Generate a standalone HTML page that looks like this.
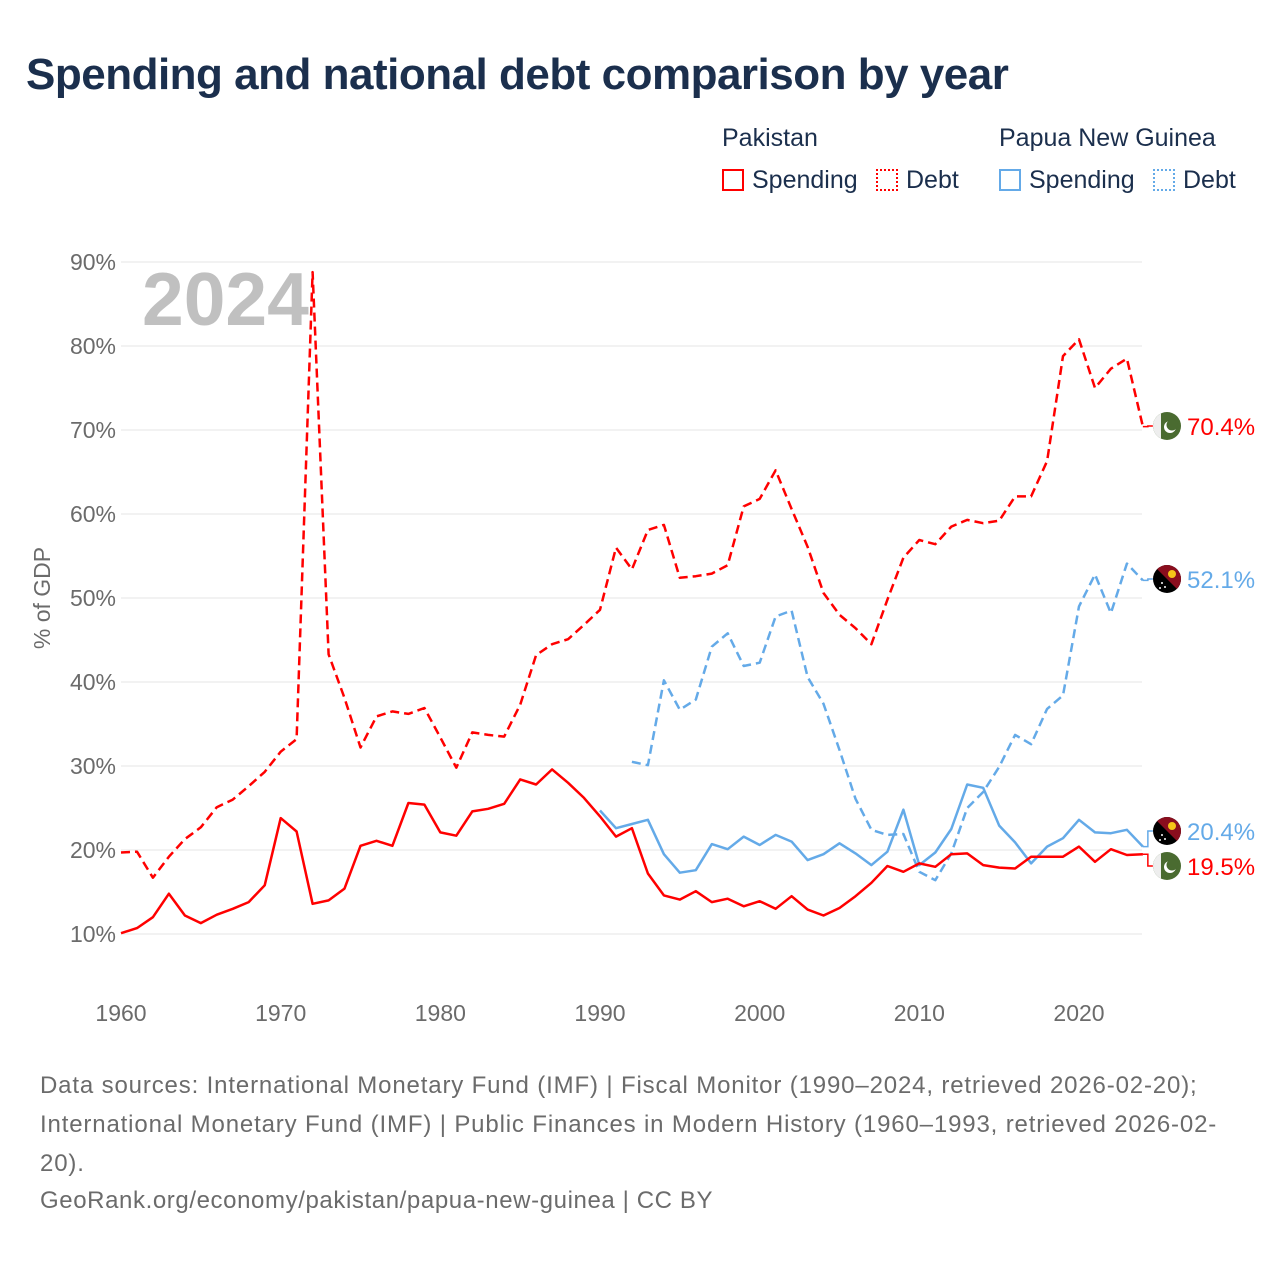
<!DOCTYPE html>
<html><head><meta charset="utf-8"><style>
html,body{margin:0;padding:0;background:#fff}
body{width:1280px;height:1280px;position:relative;font-family:"Liberation Sans","DejaVu Sans",sans-serif;overflow:hidden}
.t{position:absolute;white-space:nowrap}
</style></head><body>
<div class="t" style="left:26px;top:50px;font-size:44px;font-weight:bold;color:#1b2f4d;letter-spacing:-0.5px">Spending and national debt comparison by year</div>

<div class="t" style="left:722px;top:124px;font-size:25px;color:#1b2f4d">Pakistan</div>
<div class="t" style="left:999px;top:124px;font-size:25px;color:#1b2f4d">Papua New Guinea</div>
<div class="t" style="left:722px;top:166px;font-size:25px;color:#1b2f4d"><span style="display:inline-block;width:22px;height:22px;border:2px solid #f00;box-sizing:border-box;vertical-align:-3px;margin-right:8px"></span>Spending</div>
<div class="t" style="left:876px;top:166px;font-size:25px;color:#1b2f4d"><span style="display:inline-block;width:22px;height:22px;border:2px dotted #f00;box-sizing:border-box;vertical-align:-3px;margin-right:8px"></span>Debt</div>
<div class="t" style="left:999px;top:166px;font-size:25px;color:#1b2f4d"><span style="display:inline-block;width:22px;height:22px;border:2px solid #64aae8;box-sizing:border-box;vertical-align:-3px;margin-right:8px"></span>Spending</div>
<div class="t" style="left:1153px;top:166px;font-size:25px;color:#1b2f4d"><span style="display:inline-block;width:22px;height:22px;border:2px dotted #64aae8;box-sizing:border-box;vertical-align:-3px;margin-right:8px"></span>Debt</div>

<svg id="chart" width="1280" height="1280" style="position:absolute;left:0;top:0" xmlns="http://www.w3.org/2000/svg"></svg>

<div class="t" style="left:40px;top:1066px;font-size:24px;line-height:39px;color:#6b6b6b;letter-spacing:0.85px">Data sources: International Monetary Fund (IMF) | Fiscal Monitor (1990–2024, retrieved 2026-02-20);<br>International Monetary Fund (IMF) | Public Finances in Modern History (1960–1993, retrieved 2026-02-<br>20).</div>
<div class="t" style="left:40px;top:1187px;font-size:24px;color:#6b6b6b;letter-spacing:0.6px">GeoRank.org/economy/pakistan/papua-new-guinea | CC BY</div>

<script>
const yTicks=[10,20,30,40,50,60,70,80,90];
const xTicks=[1960,1970,1980,1990,2000,2010,2020];
const pakYears0=1960;
const pakSpending=[10.1,10.7,12,14.8,12.2,11.3,12.3,13,13.8,15.8,23.8,22.2,13.6,14,15.4,20.5,21.1,20.5,25.6,25.4,22.1,21.7,24.6,24.9,25.5,28.4,27.8,29.6,28,26.2,24,21.6,22.6,17.2,14.6,14.1,15.1,13.8,14.2,13.3,13.9,13,14.5,12.9,12.2,13.1,14.5,16.1,18.1,17.4,18.4,18,19.5,19.6,18.2,17.9,17.8,19.2,19.2,19.2,20.4,18.6,20.1,19.4,19.5];
const pakDebt=[19.7,19.8,16.7,19.2,21.3,22.7,25.1,26,27.6,29.3,31.7,33.2,88.8,43.3,38.1,32.2,35.9,36.5,36.2,36.9,33.4,29.8,34,33.7,33.5,37.3,43.2,44.5,45.1,46.8,48.6,56,53.4,58.1,58.7,52.4,52.6,52.9,53.9,60.9,61.8,65.2,60.6,56.1,50.6,48,46.4,44.5,49.8,54.8,56.9,56.4,58.5,59.3,58.9,59.2,62.1,62.1,66.3,78.8,80.8,75,77.3,78.5,70.4];
const pngSpendStart=1990;
const pngSpending=[24.7,22.6,23.1,23.6,19.5,17.3,17.6,20.7,20.1,21.6,20.6,21.8,21,18.8,19.5,20.8,19.6,18.2,19.8,24.8,18.2,19.7,22.5,27.8,27.4,22.9,20.9,18.4,20.4,21.4,23.6,22.1,22,22.4,20.4];
const pngDebtStart=1992;
const pngDebt=[30.5,30.1,40.2,36.7,37.9,44.2,45.8,41.9,42.3,47.8,48.5,40.6,37.4,31.9,26.1,22.4,21.8,21.9,17.4,16.4,19.6,25,26.9,29.9,33.7,32.6,36.8,38.4,49,52.8,48.2,54.1,52.1];

const svg=document.getElementById('chart');
const NS='http://www.w3.org/2000/svg';
const X=yr=>121+(yr-1960)*(958/60);
const Y=v=>934-(v-10)*8.4;
function mk(tag,attrs){const e=document.createElementNS(NS,tag);for(const k in attrs)e.setAttribute(k,attrs[k]);svg.appendChild(e);return e;}

yTicks.forEach(v=>{
  const l=mk('line',{x1:121,x2:1142,y1:Y(v),y2:Y(v),stroke:'#e4e4e4','stroke-width':1});
  
  
  const t=mk('text',{x:116,y:Y(v)+8,'text-anchor':'end','font-size':23,fill:'#6b6b6b','font-family':'Liberation Sans, sans-serif'});
  t.textContent=v+'%';
  
  
});
xTicks.forEach(yr=>{
  const t=mk('text',{x:X(yr),y:1021,'text-anchor':'middle','font-size':23,fill:'#6b6b6b','font-family':'Liberation Sans, sans-serif'});
  t.textContent=yr;
  
  
});
const yt=mk('text',{x:0,y:0,transform:'translate(50,598) rotate(-90)','text-anchor':'middle','font-size':23,fill:'#6b6b6b','font-family':'Liberation Sans, sans-serif'});
yt.textContent='% of GDP';


const yr=mk('text',{x:142,y:325,'font-size':75,'font-weight':'bold',fill:'#c0c0c0','font-family':'Liberation Sans, sans-serif'});
yr.textContent='2024';



function series(arr,start,color,dash,name){
  const d=arr.map((v,i)=>(i?'L':'M')+X(start+i).toFixed(1)+','+Y(v).toFixed(1)).join('');
  const p=mk('path',{d:d,fill:'none',stroke:color,'stroke-width':2.5,'stroke-linejoin':'round'});
  if(dash)p.setAttribute('stroke-dasharray','9,5');
  
  
}
series(pngDebt,pngDebtStart,'#64aae8',true,'line-png-debt');
series(pngSpending,pngSpendStart,'#64aae8',false,'line-png-spending');
series(pakDebt,pakYears0,'#ff0000',true,'line-pakistan-debt');
series(pakSpending,pakYears0,'#ff0000',false,'line-pakistan-spending');

function endLabel(v,fy,color,flag,name){
  const x0=X(2024),y0=Y(v);
  const c=mk('path',{d:`M${x0},${y0}H${x0+5}V${fy}H${x0+10}`,fill:'none',stroke:color,'stroke-width':1.5});
  
  
  const g=document.createElementNS(NS,'g');svg.appendChild(g);
  
  
  const cx=1167,r=14;
  if(flag==='pk'){
    g.innerHTML=`<clipPath id="c${fy}"><circle cx="${cx}" cy="${fy}" r="${r}"/></clipPath><g clip-path="url(#c${fy})"><rect x="${cx-r}" y="${fy-r}" width="${2*r}" height="${2*r}" fill="#4a6b30"/><rect x="${cx-r}" y="${fy-r}" width="8" height="${2*r}" fill="#eee"/><circle cx="${cx+3}" cy="${fy+1}" r="6" fill="#fff"/><circle cx="${cx+5}" cy="${fy-1}" r="5.5" fill="#4a6b30"/></g>`;
  }else{
    g.innerHTML=`<clipPath id="c${fy}"><circle cx="${cx}" cy="${fy}" r="${r}"/></clipPath><g clip-path="url(#c${fy})"><rect x="${cx-r}" y="${fy-r}" width="${2*r}" height="${2*r}" fill="#000"/><polygon points="${cx-r},${fy-r} ${cx+r},${fy-r} ${cx+r},${fy+r}" fill="#8a0e1e"/><circle cx="${cx+5}" cy="${fy-5}" r="4" fill="#f5c518"/><circle cx="${cx-5}" cy="${fy+4}" r="1" fill="#fff"/><circle cx="${cx-2}" cy="${fy+8}" r="1" fill="#fff"/><circle cx="${cx-7}" cy="${fy+9}" r="1" fill="#fff"/></g>`;
  }
  const t=mk('text',{x:1187,y:fy+9,'font-size':24,fill:color,'font-family':'Liberation Sans, sans-serif'});
  t.textContent=v.toFixed(1)+'%';
  
  
}
endLabel(pakDebt[pakDebt.length-1],426,'#ff0000','pk','end-label-pakistan-debt');
endLabel(pngDebt[pngDebt.length-1],579,'#64aae8','png','end-label-png-debt');
endLabel(pngSpending[pngSpending.length-1],831,'#64aae8','png','end-label-png-spending');
endLabel(pakSpending[pakSpending.length-1],866,'#ff0000','pk','end-label-pakistan-spending');
</script>
</body></html>
